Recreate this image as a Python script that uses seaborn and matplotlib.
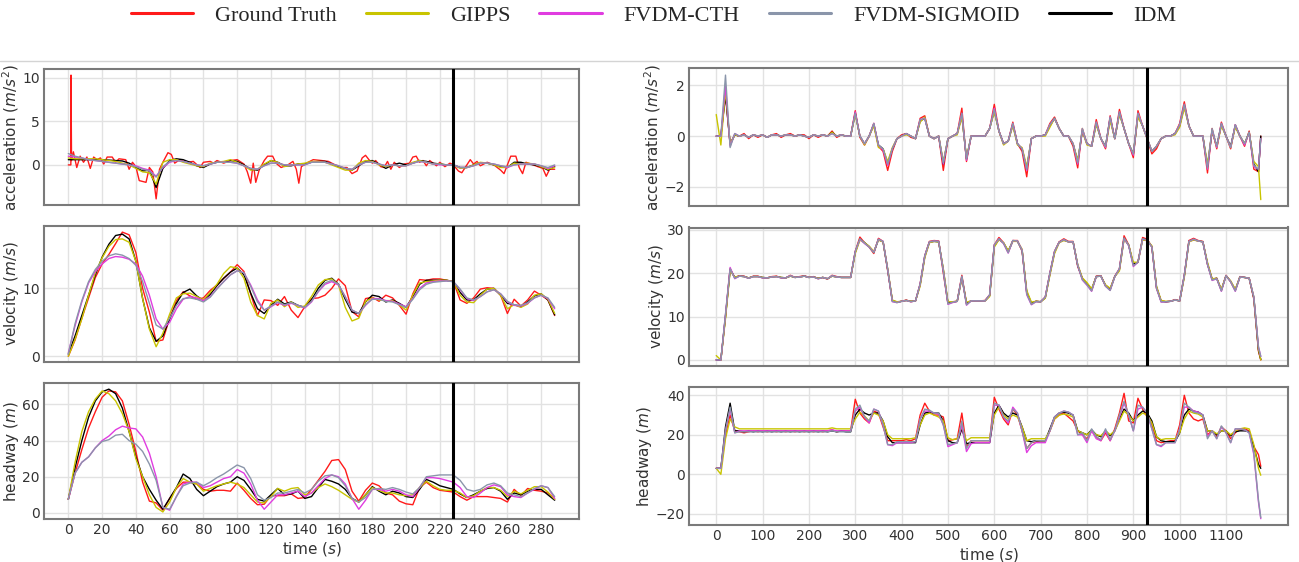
import numpy as np
import matplotlib
matplotlib.use("Agg")
import matplotlib.pyplot as plt
from matplotlib.lines import Line2D
import seaborn as sns

# ---------------------------------------------------------------------------
# Series labels and colours
# ---------------------------------------------------------------------------
models = ["Ground Truth", "GIPPS", "FVDM-CTH", "FVDM-SIGMOID", "IDM"]
colors = {"Ground Truth": "#ff1a1a", "GIPPS": "#c8c400", "FVDM-CTH": "#e03ce0",
          "FVDM-SIGMOID": "#8a95aa", "IDM": "#000000"}

# ---------------------------------------------------------------------------
# Trajectory 1 (short run, 0-288 s, sampled every 4 s)
# ---------------------------------------------------------------------------
t_short = np.arange(0, 289, 4)
split_short = 228  # train / test boundary (s)

# measured acceleration is logged on its own irregular time stamps
gt_acc_short_t = [0, 1.5, 1.6, 1.9, 3, 5, 7, 9, 11, 13, 15, 17, 19, 21, 23, 26, 28, 30, 34, 36,
                  38, 40, 42, 46, 48, 50, 52, 54, 56, 59, 61, 63, 66, 70, 74, 78, 80, 84, 86, 88,
                  92, 96, 100, 104, 106, 108, 109.5, 111, 113, 116, 118, 121, 123, 126, 130, 133,
                  135, 136.5, 138, 142, 145, 150, 154, 158, 162, 165, 168, 171, 174, 176, 178,
                  180, 182, 185, 187, 189, 191, 193, 196, 199, 202, 204, 206, 208, 210, 212, 214,
                  218, 220, 223, 226, 228, 231, 233, 236, 238, 240, 242, 244, 248, 252, 256, 258,
                  260, 262, 265, 267, 269, 271, 274, 278, 281, 283, 285, 288]
gt_acc_short = [0.0, 0.0, 10.3, 0.5, 1.5, -0.3, 1.0, 0.3, 0.9, -0.4, 0.9, 0.6, 0.8, 0.1, 0.9, 0.9,
                0.3, 0.7, 0.6, -0.5, 0.3, -0.2, -1.8, -2.0, -0.3, -0.8, -3.9, -0.5, 0.3, 1.4, 1.2,
                0.2, 0.6, 0.3, 0.4, -0.3, 0.3, 0.4, 0.2, 0.5, 0.2, 0.5, 0.6, 0.1, -0.8, -2.1, 0.2,
                -2.0, -0.6, 0.5, 1.0, 1.0, 0.2, -0.3, 0.0, 0.4, -0.5, -2.1, -0.2, 0.3, 0.6, 0.5,
                0.4, 0.0, -0.3, -0.3, -1.0, -0.7, 0.8, 1.1, 0.6, 0.2, 0.5, -0.2, -0.3, 0.4, -0.5,
                0.3, -0.3, 0.1, 0.2, 0.9, 1.0, 0.3, 0.5, -0.1, 0.5, -0.1, 0.3, -0.2, 0.2, 0.0,
                -0.7, -0.9, 0.0, 0.6, 0.1, 0.4, -0.1, 0.3, 0.0, -0.6, -1.0, 0.0, 1.0, 1.0, -0.3,
                -1.0, 0.3, 0.1, -0.2, -0.4, -1.3, -0.5, -0.5]

acc_short = {
    "GIPPS": [0.8, 0.7, 0.7, 0.7, 0.7, 0.6, 0.5, 0.4, 0.2, 0.0,
              -0.4, -0.8, -0.9, -2.2, 0.3, 0.6, 0.6, 0.3, 0.1, -0.1,
              -0.2, 0.2, 0.3, 0.4, 0.6, 0.3, -0.1, -0.6, -0.5, 0.1,
              0.5, 0.3, -0.2, 0.0, 0.1, 0.2, 0.4, 0.4, 0.3, 0.0,
              -0.3, -0.6, -0.6, 0.2, 0.5, 0.4, 0.0, -0.2, 0.0, -0.1,
              -0.1, 0.3, 0.5, 0.3, 0.1, 0.1, 0.0, 0.0, -0.4, -0.3,
              0.0, 0.3, 0.2, 0.0, -0.3, -0.3, 0.2, 0.1, 0.2, 0.1,
              -0.2, -0.5, -0.3],
    "FVDM-CTH": [1.0, 0.9, 0.8, 0.6, 0.5, 0.4, 0.3, 0.2, 0.1, 0.0,
                 -0.1, -0.4, -0.6, -1.3, -0.3, 0.3, 0.5, 0.4, 0.2, 0.0,
                 -0.1, 0.1, 0.3, 0.3, 0.3, 0.2, -0.1, -0.4, -0.5, -0.1,
                 0.2, 0.2, 0.0, 0.0, 0.0, 0.0, 0.3, 0.3, 0.3, 0.1,
                 -0.1, -0.4, -0.5, 0.0, 0.3, 0.3, 0.1, -0.1, 0.0, -0.1,
                 -0.1, 0.2, 0.4, 0.3, 0.1, 0.0, 0.0, 0.0, -0.3, -0.3,
                 -0.1, 0.2, 0.2, 0.1, -0.1, -0.3, 0.0, 0.1, 0.1, 0.1,
                 -0.1, -0.4, -0.1],
    "FVDM-SIGMOID": [1.3, 1.0, 0.8, 0.6, 0.5, 0.4, 0.3, 0.2, 0.1, 0.0,
                     -0.2, -0.5, -0.7, -1.4, -0.2, 0.4, 0.5, 0.4, 0.2, 0.0,
                     -0.1, 0.1, 0.3, 0.3, 0.3, 0.2, -0.1, -0.4, -0.5, -0.1,
                     0.2, 0.2, 0.0, 0.0, 0.0, 0.0, 0.3, 0.3, 0.3, 0.1,
                     -0.1, -0.4, -0.5, 0.0, 0.3, 0.3, 0.1, -0.1, 0.0, -0.1,
                     -0.1, 0.2, 0.4, 0.3, 0.1, 0.1, 0.0, 0.0, -0.3, -0.3,
                     -0.1, 0.2, 0.2, 0.1, -0.1, -0.2, 0.0, 0.1, 0.1, 0.1,
                     -0.1, -0.3, 0.0],
    "IDM": [0.6, 0.6, 0.6, 0.6, 0.6, 0.6, 0.55, 0.5, 0.45, 0.2,
            -0.3, -0.7, -0.6, -2.6, -0.4, 0.5, 0.7, 0.6, 0.3, -0.1,
            -0.3, 0.1, 0.3, 0.3, 0.5, 0.4, 0.0, -0.5, -0.6, 0.0,
            0.5, 0.3, -0.1, -0.1, 0.1, 0.1, 0.3, 0.4, 0.4, 0.1,
            -0.2, -0.4, -0.6, -0.1, 0.4, 0.5, 0.1, -0.4, 0.0, 0.2,
            0.0, 0.2, 0.5, 0.4, 0.2, 0.1, 0.0, 0.0, -0.3, -0.3,
            0.0, 0.2, 0.2, 0.0, -0.2, -0.3, 0.3, 0.3, 0.1, 0.0,
            -0.2, -0.6, -0.2],
}

vel_short = {
    "Ground Truth": [0.0, 2.4, 5.6, 8.6, 11.6, 13.6, 15.0, 16.6, 18.3, 17.9,
                     15.3, 10.0, 6.5, 2.2, 2.4, 5.6, 8.2, 9.5, 8.9, 8.4,
                     8.6, 9.7, 10.5, 11.5, 12.4, 13.5, 12.5, 9.2, 6.0, 8.3,
                     8.2, 7.5, 8.8, 6.8, 5.7, 7.3, 8.5, 8.6, 9.0, 10.0,
                     11.4, 10.4, 6.6, 5.8, 8.5, 8.7, 8.1, 9.0, 8.6, 7.5,
                     6.2, 9.2, 11.3, 11.2, 11.4, 11.4, 11.2, 11.0, 8.3, 7.8,
                     8.6, 9.9, 10.1, 10.0, 9.0, 6.3, 8.4, 7.4, 8.3, 9.6,
                     9.0, 8.3, 6.0],
    "GIPPS": [0.0, 2.5, 5.5, 9.0, 12.3, 14.5, 16.2, 17.2, 17.3, 16.8,
              14.0, 8.5, 4.0, 1.4, 3.4, 6.2, 8.6, 9.2, 9.3, 8.8,
              8.3, 9.4, 10.6, 12.2, 13.2, 13.0, 11.5, 8.0, 6.0, 5.5,
              7.8, 8.3, 7.3, 8.0, 7.2, 7.4, 8.8, 10.5, 11.3, 11.4,
              10.5, 7.2, 5.2, 5.6, 8.1, 8.6, 8.3, 8.2, 8.2, 7.6,
              6.8, 9.0, 10.8, 11.0, 11.1, 11.2, 11.2, 11.0, 9.0, 8.0,
              7.9, 9.0, 9.9, 10.0, 9.0, 7.0, 7.6, 7.2, 7.7, 9.0,
              9.2, 8.4, 6.3],
    "FVDM-CTH": [0.5, 4.5, 8.0, 10.8, 12.5, 13.6, 14.4, 14.7, 14.6, 14.3,
                 13.6, 11.8, 9.0, 5.5, 4.0, 5.0, 7.0, 8.4, 8.8, 8.6,
                 8.2, 8.8, 10.0, 11.0, 12.0, 12.6, 12.3, 10.5, 8.3, 6.8,
                 7.3, 7.9, 7.5, 7.8, 7.5, 7.1, 8.0, 9.5, 10.6, 11.0,
                 10.5, 8.8, 6.8, 6.3, 7.5, 8.5, 8.5, 8.2, 8.1, 7.7,
                 7.3, 8.5, 10.0, 10.8, 11.0, 11.1, 11.1, 11.0, 9.8, 8.5,
                 8.2, 8.8, 9.5, 9.8, 9.2, 8.0, 7.5, 7.4, 7.8, 8.6,
                 9.0, 8.5, 7.0],
    "FVDM-SIGMOID": [0.3, 4.8, 8.2, 11.0, 12.8, 14.0, 14.8, 15.1, 14.9, 14.4,
                     13.4, 11.0, 7.8, 4.6, 4.0, 5.6, 7.5, 8.5, 8.6, 8.4,
                     8.0, 8.7, 9.9, 11.0, 12.0, 12.6, 12.3, 10.3, 8.0, 6.8,
                     7.4, 8.0, 7.6, 7.9, 7.5, 7.2, 8.1, 9.6, 10.8, 11.2,
                     10.6, 8.7, 6.8, 6.3, 7.6, 8.4, 8.4, 8.1, 8.0, 7.6,
                     7.2, 8.4, 9.8, 10.6, 10.9, 11.0, 11.1, 11.0, 9.9, 8.6,
                     8.3, 8.8, 9.5, 9.8, 9.2, 8.1, 7.6, 7.5, 7.9, 8.6,
                     9.0, 8.6, 7.2],
    "IDM": [0.3, 3.0, 6.0, 9.0, 12.0, 14.6, 16.5, 17.8, 18.0, 17.3,
            14.0, 8.5, 4.2, 2.2, 3.0, 5.5, 7.8, 9.4, 9.9, 8.9,
            8.2, 9.1, 10.4, 11.5, 12.4, 13.0, 12.0, 9.3, 7.0, 6.3,
            7.5, 8.4, 7.7, 8.0, 7.5, 7.2, 8.3, 10.0, 11.2, 11.5,
            10.6, 8.4, 6.5, 6.3, 8.0, 9.0, 8.8, 8.0, 8.3, 7.8,
            7.2, 8.8, 10.6, 11.2, 11.2, 11.2, 11.2, 11.0, 9.4, 8.3,
            8.3, 9.2, 9.9, 10.0, 9.0, 7.8, 7.6, 7.3, 8.0, 8.9,
            9.2, 8.3, 6.1],
}

head_short = {
    "Ground Truth": [7.5, 22, 35, 47, 56, 64, 67.5, 67, 62, 49,
                     34, 17, 6.5, 5.5, 1.5, 8, 13.5, 17, 17, 16,
                     13, 12, 12.5, 12.5, 12, 16.5, 12.5, 8, 4.5, 4.8,
                     9.5, 9.5, 9.5, 10.5, 8, 8.5, 13, 18, 23, 29,
                     29.5, 24, 12, 6.5, 12.5, 16.5, 15, 11, 10, 6.5,
                     5, 4.5, 14, 17, 14, 12.5, 12, 11.5, 9, 7,
                     9, 9, 9, 8.5, 8, 6, 13, 9.5, 13.5, 12.5,
                     12, 11, 7.5],
    "GIPPS": [7.5, 28, 45, 56, 63, 67.5, 66, 62, 55, 45,
              30, 20, 10, 3, 0.5, 6, 14, 19, 17, 16,
              12, 13.5, 15, 16, 17, 16, 14, 10, 6, 5.5,
              9, 13.5, 12, 13.5, 14, 10, 11, 14, 16, 14.5,
              12.5, 10, 7.5, 6, 10, 14, 12.5, 11, 11, 10,
              9.5, 10, 14, 17.5, 15, 13, 12.5, 12.5, 11, 8.5,
              9.5, 12, 14, 14, 12.5, 9, 12, 10.5, 12.5, 14.5,
              14.5, 11.5, 7.5],
    "FVDM-CTH": [7.5, 22, 28, 31, 36, 40, 42.5, 46, 48, 47,
                 46.5, 42, 33, 20, 3, 1.5, 9, 16, 17, 17,
                 14, 15, 17, 19, 20, 24, 22, 16, 7, 2,
                 6, 10, 10, 11, 12, 9, 11, 15, 19, 21,
                 20, 16, 8, 2, 7, 13, 13, 12, 13, 12,
                 10, 9, 14, 19.5, 19.5, 19, 18, 17, 14, 9,
                 8.5, 11, 14, 15.5, 14.5, 10, 9, 8.5, 11, 13,
                 15, 14, 8],
    "FVDM-SIGMOID": [7.5, 22, 28, 31, 36, 39.5, 40.5, 43, 43.5, 40,
                     38, 34, 27, 18, 3, 2, 9, 15, 16.5, 17,
                     15, 17, 19.5, 21.5, 24, 26.5, 25, 19, 10, 7,
                     8.5, 11, 11, 12, 13, 11, 13, 17.5, 20.5, 21,
                     19.5, 15, 8, 6, 8.5, 13, 13.5, 13, 14, 13,
                     11.5, 10.5, 14, 20, 20.5, 21, 21, 21, 18, 13,
                     12, 13, 15.5, 16.5, 15, 11, 10, 9, 11, 13.5,
                     15, 14, 9],
    "IDM": [7.5, 25, 40, 53, 62, 67, 68.5, 66, 58, 45,
            31, 20, 13, 7, 2, 8, 14, 21.5, 19, 13,
            9.5, 12, 14.5, 16, 17, 20, 18, 13, 7.5, 6.5,
            10, 13.5, 10, 10.5, 12, 8, 9, 14, 18.5, 17.5,
            16, 13, 8, 6, 10, 14.5, 12, 10, 12, 11,
            9, 8.5, 13, 18.5, 17, 15, 14, 13, 10.5, 8.5,
            10, 12, 13.5, 14, 12, 7.5, 11, 10, 12, 13,
            13, 10, 7],
}

# ---------------------------------------------------------------------------
# Trajectory 2 (long run, 0-1175 s, sampled every 10 s)
# ---------------------------------------------------------------------------
t_long = np.r_[np.arange(0, 1171, 10), 1175]
split_long = 929

acc_long = {
    "Ground Truth": [0, 0, 1.7, -0.35, 0.05, 0.0, 0.1, -0.1, 0.05, -0.05,
                     0.05, -0.05, 0.05, 0.1, -0.05, 0.05, 0.1, 0.0, 0.05, 0.05,
                     -0.1, 0.05, -0.05, 0.05, 0.0, 0.2, -0.05, 0.05, 0.0, 0.0,
                     1.0, -0.05, -0.35, 0.0, 0.5, -0.4, -0.6, -1.35, -0.6, -0.1,
                     0.05, 0.1, -0.05, -0.1, 0.7, 0.8, 0.0, -0.1, 0.0, -1.35,
                     -0.1, 0.0, 0.1, 1.1, -1.0, 0.0, 0.0, 0.0, 0.0, 0.3,
                     1.25, 0.2, -0.3, -0.2, 0.55, -0.3, -0.6, -1.6, -0.1, 0.0,
                     0.0, 0.05, 0.5, 0.75, 0.3, 0.0, 0.0, -0.4, -1.25, 0.3,
                     -0.3, -0.4, 0.65, -0.1, -0.5, 0.8, -0.1, 1.05, 0.3, -0.3,
                     -0.85, 1.0, 0.4, -0.1, -0.7, -0.5, -0.1, 0.0, 0.0, 0.1,
                     0.5, 1.35, 0.4, 0.0, 0.0, 0.0, -1.45, 0.3, -0.5, 0.55,
                     0.0, -0.5, 0.45, 0.0, -0.4, 0.2, -1.3, -1.4, 0.0],
    "GIPPS": [0.85, -0.35, 1.8, -0.3, 0.05, 0.0, 0.05, -0.05, 0.05, 0.0,
              0.05, -0.05, 0.05, 0.05, 0.0, 0.05, 0.05, 0.0, 0.05, 0.0,
              -0.05, 0.05, 0.0, 0.05, 0.0, 0.15, 0.0, 0.05, 0.0, 0.0,
              0.85, 0.0, -0.35, 0.0, 0.4, -0.45, -0.5, -1.0, -0.45, -0.1,
              0.0, 0.05, 0.0, -0.1, 0.55, 0.75, 0.0, -0.1, 0.0, -1.0,
              -0.1, 0.0, 0.05, 0.75, -0.85, 0.0, 0.0, 0.0, 0.0, 0.3,
              0.95, 0.2, -0.35, -0.2, 0.4, -0.35, -0.45, -1.2, -0.1, 0.0,
              0.0, 0.0, 0.35, 0.7, 0.3, 0.0, 0.0, -0.3, -0.95, 0.2,
              -0.35, -0.4, 0.45, -0.1, -0.45, 0.6, -0.1, 0.85, 0.3, -0.3,
              -0.7, 0.75, 0.4, -0.1, -0.6, -0.4, -0.1, 0.0, 0.0, 0.05,
              0.35, 1.1, 0.4, 0.0, 0.0, 0.0, -1.1, 0.2, -0.45, 0.4,
              0.0, -0.45, 0.35, 0.0, -0.3, 0.15, -1.0, -1.2, -2.5],
    "FVDM-CTH": [0, 0, 2.0, -0.4, 0.1, 0.0, 0.05, -0.05, 0.05, 0.0,
                 0.05, -0.05, 0.05, 0.05, 0.0, 0.05, 0.05, 0.0, 0.05, 0.0,
                 -0.05, 0.05, 0.0, 0.05, 0.0, 0.1, 0.0, 0.05, 0.0, 0.0,
                 0.95, 0.0, -0.3, 0.0, 0.5, -0.35, -0.55, -1.15, -0.5, -0.1,
                 0.0, 0.1, 0.0, -0.1, 0.65, 0.7, 0.0, -0.1, 0.0, -1.1,
                 -0.1, 0.0, 0.1, 0.9, -0.95, 0.0, 0.0, 0.0, 0.0, 0.3,
                 1.1, 0.2, -0.3, -0.2, 0.5, -0.3, -0.5, -1.35, -0.1, 0.0,
                 0.0, 0.05, 0.45, 0.7, 0.3, 0.0, 0.0, -0.3, -1.1, 0.25,
                 -0.3, -0.4, 0.55, -0.1, -0.45, 0.75, -0.1, 0.95, 0.3, -0.3,
                 -0.75, 0.9, 0.4, -0.1, -0.6, -0.4, -0.1, 0.0, 0.0, 0.1,
                 0.45, 1.25, 0.4, 0.0, 0.0, 0.0, -1.3, 0.25, -0.45, 0.5,
                 0.0, -0.45, 0.45, 0.0, -0.35, 0.15, -1.2, -1.3, -0.1],
    "FVDM-SIGMOID": [0, 0, 2.4, -0.45, 0.1, 0.0, 0.05, -0.05, 0.05, 0.0,
                     0.05, -0.05, 0.05, 0.05, 0.0, 0.05, 0.05, 0.0, 0.05, 0.0,
                     -0.05, 0.05, 0.0, 0.05, 0.0, 0.1, 0.0, 0.05, 0.0, 0.0,
                     0.9, 0.0, -0.3, 0.0, 0.5, -0.35, -0.5, -1.1, -0.5, -0.1,
                     0.0, 0.1, 0.0, -0.1, 0.65, 0.7, 0.0, -0.1, 0.0, -1.05,
                     -0.1, 0.0, 0.1, 0.9, -0.9, 0.0, 0.0, 0.0, 0.0, 0.3,
                     1.05, 0.2, -0.3, -0.2, 0.5, -0.3, -0.5, -1.3, -0.1, 0.0,
                     0.0, 0.05, 0.45, 0.7, 0.3, 0.0, 0.0, -0.3, -1.05, 0.3,
                     -0.3, -0.4, 0.55, -0.1, -0.4, 0.75, -0.1, 0.95, 0.3, -0.3,
                     -0.7, 0.9, 0.4, -0.1, -0.6, -0.4, -0.1, 0.0, 0.0, 0.1,
                     0.45, 1.25, 0.4, 0.0, 0.0, 0.0, -1.25, 0.3, -0.4, 0.5,
                     0.0, -0.45, 0.45, 0.0, -0.3, 0.15, -1.15, -1.3, -0.1],
    "IDM": [0, 0, 1.6, -0.3, 0.05, 0.0, 0.05, -0.05, 0.05, 0.0,
            0.05, -0.05, 0.05, 0.05, 0.0, 0.05, 0.05, 0.0, 0.05, 0.0,
            -0.05, 0.05, 0.0, 0.05, 0.0, 0.15, 0.0, 0.05, 0.0, 0.0,
            0.9, 0.0, -0.3, 0.0, 0.45, -0.35, -0.5, -1.1, -0.5, -0.1,
            0.0, 0.1, 0.0, -0.1, 0.6, 0.7, 0.0, -0.1, 0.0, -1.1,
            -0.1, 0.0, 0.1, 0.8, -0.9, 0.0, 0.0, 0.0, 0.0, 0.3,
            1.0, 0.2, -0.3, -0.2, 0.45, -0.3, -0.5, -1.3, -0.1, 0.0,
            0.0, 0.05, 0.4, 0.7, 0.3, 0.0, 0.0, -0.3, -1.0, 0.2,
            -0.3, -0.4, 0.5, -0.1, -0.4, 0.7, -0.1, 0.9, 0.3, -0.3,
            -0.7, 0.8, 0.4, -0.1, -0.6, -0.4, -0.1, 0.0, 0.0, 0.1,
            0.4, 1.2, 0.4, 0.0, 0.0, 0.0, -1.2, 0.2, -0.4, 0.45,
            0.0, -0.4, 0.4, 0.0, -0.3, 0.15, -1.1, -1.4, 0.0],
}

vel_long = {
    "Ground Truth": [0, 0, 10.0, 21.0, 19.0, 19.4, 19.3, 18.8, 19.3, 19.3,
                     18.9, 18.9, 19.2, 19.3, 18.9, 18.9, 19.5, 19.0, 19.2, 19.4,
                     19.0, 19.2, 18.7, 19.0, 18.6, 19.5, 19.2, 19.0, 19.0, 19.0,
                     25.0, 28.3, 27.0, 26.0, 24.5, 28.0, 27.3, 20.5, 13.7, 13.3,
                     13.5, 13.8, 13.4, 13.6, 17.5, 24.0, 27.3, 27.5, 27.4, 20.0,
                     13.0, 13.4, 13.5, 19.5, 13.0, 13.6, 13.6, 13.6, 13.7, 15.0,
                     26.5, 28.2, 27.0, 24.8, 27.5, 27.5, 25.0, 15.5, 13.0, 13.5,
                     13.4, 14.5, 20.0, 25.0, 27.2, 27.9, 27.3, 27.3, 21.5, 18.8,
                     17.5, 16.0, 19.3, 19.4, 17.0, 16.2, 19.3, 21.0, 28.6, 26.5,
                     22.0, 22.5, 28.2, 27.8, 26.0, 16.5, 13.6, 13.4, 13.5, 13.9,
                     13.6, 19.5, 27.5, 28.0, 27.5, 27.3, 22.0, 18.6, 18.8, 16.0,
                     19.5, 18.0, 16.0, 19.2, 19.0, 18.8, 14.0, 2.0, 0.0],
    "GIPPS": [1.0, 0, 9.5, 20.5, 19.1, 19.3, 19.2, 18.9, 19.2, 19.2,
              19.0, 18.9, 19.1, 19.2, 19.0, 18.9, 19.3, 19.0, 19.1, 19.3,
              19.0, 19.1, 18.8, 19.0, 18.7, 19.3, 19.1, 19.0, 19.0, 19.0,
              24.5, 27.6, 27.0, 26.2, 25.0, 27.6, 27.2, 21.0, 13.8, 13.4,
              13.5, 13.7, 13.5, 13.6, 17.0, 23.5, 27.0, 27.3, 27.2, 21.0,
              13.4, 13.4, 13.5, 18.8, 13.3, 13.6, 13.6, 13.6, 13.6, 14.6,
              26.0, 27.7, 27.0, 25.2, 27.3, 27.3, 25.5, 16.0, 13.3, 13.5,
              13.4, 14.2, 19.5, 24.5, 27.0, 27.5, 27.2, 27.2, 22.0, 18.9,
              17.8, 16.4, 19.2, 19.3, 17.3, 16.5, 19.2, 20.5, 27.8, 26.5,
              22.5, 22.5, 27.6, 27.5, 26.3, 17.0, 13.7, 13.5, 13.5, 13.8,
              13.6, 19.0, 27.2, 27.6, 27.4, 27.2, 22.5, 18.7, 18.8, 16.3,
              19.4, 18.2, 16.3, 19.1, 19.0, 18.8, 14.5, 2.5, 0.0],
    "FVDM-CTH": [0, 0, 10.5, 21.3, 18.7, 19.3, 19.2, 18.8, 19.2, 19.2,
                 18.9, 18.9, 19.1, 19.2, 18.9, 18.9, 19.4, 19.0, 19.1, 19.3,
                 19.0, 19.1, 18.7, 19.0, 18.7, 19.4, 19.1, 19.0, 19.0, 19.0,
                 25.0, 27.8, 26.8, 26.0, 24.8, 27.8, 27.3, 20.8, 13.4, 13.2,
                 13.5, 13.7, 13.4, 13.6, 17.5, 24.0, 27.2, 27.4, 27.3, 20.5,
                 12.8, 13.2, 13.5, 19.2, 12.6, 13.6, 13.6, 13.6, 13.6, 15.0,
                 26.5, 27.9, 26.8, 24.6, 27.5, 27.4, 25.3, 15.0, 12.7, 13.4,
                 13.4, 14.5, 20.0, 25.0, 27.1, 27.7, 27.2, 27.2, 21.8, 18.4,
                 17.2, 15.8, 19.2, 19.3, 17.0, 16.0, 19.2, 21.0, 28.0, 26.3,
                 21.5, 22.5, 27.8, 27.6, 26.0, 16.5, 13.3, 13.4, 13.5, 13.8,
                 13.6, 19.5, 27.3, 27.8, 27.4, 27.2, 22.0, 18.3, 18.7, 15.8,
                 19.4, 18.0, 15.8, 19.1, 19.0, 18.8, 14.5, 3.0, 0.8],
    "FVDM-SIGMOID": [0, 0, 10.5, 21.0, 18.8, 19.3, 19.2, 18.8, 19.2, 19.2,
                     18.9, 18.9, 19.1, 19.2, 18.9, 18.9, 19.4, 19.0, 19.1, 19.3,
                     19.0, 19.1, 18.7, 19.0, 18.7, 19.4, 19.1, 19.0, 19.0, 19.0,
                     25.0, 27.9, 26.9, 26.0, 24.7, 27.8, 27.3, 20.8, 13.5, 13.2,
                     13.5, 13.7, 13.4, 13.6, 17.5, 24.0, 27.2, 27.4, 27.3, 20.5,
                     12.9, 13.3, 13.5, 19.3, 12.7, 13.6, 13.6, 13.6, 13.6, 15.0,
                     26.5, 27.9, 26.9, 24.7, 27.5, 27.4, 25.2, 15.2, 12.8, 13.4,
                     13.4, 14.5, 20.0, 25.0, 27.1, 27.7, 27.2, 27.2, 21.8, 18.5,
                     17.3, 15.9, 19.2, 19.3, 17.0, 16.0, 19.2, 21.0, 28.1, 26.4,
                     21.7, 22.5, 27.9, 27.6, 26.0, 16.5, 13.4, 13.4, 13.5, 13.8,
                     13.6, 19.5, 27.3, 27.8, 27.4, 27.2, 22.0, 18.4, 18.7, 15.9,
                     19.4, 18.0, 15.9, 19.1, 19.0, 18.8, 14.5, 3.0, 0.8],
    "IDM": [0, 0, 10.0, 20.8, 19.0, 19.3, 19.2, 18.9, 19.2, 19.2,
            19.0, 18.9, 19.1, 19.2, 19.0, 18.9, 19.3, 19.0, 19.1, 19.3,
            19.0, 19.1, 18.8, 19.0, 18.7, 19.3, 19.1, 19.0, 19.0, 19.0,
            24.8, 27.8, 27.0, 26.1, 24.8, 27.7, 27.2, 20.8, 13.6, 13.3,
            13.5, 13.7, 13.5, 13.6, 17.3, 23.8, 27.1, 27.3, 27.2, 20.8,
            13.1, 13.3, 13.5, 19.0, 13.0, 13.6, 13.6, 13.6, 13.6, 14.8,
            26.2, 27.8, 26.9, 25.0, 27.4, 27.3, 25.3, 15.6, 13.1, 13.5,
            13.4, 14.3, 19.8, 24.8, 27.1, 27.6, 27.2, 27.2, 21.8, 18.7,
            17.6, 16.2, 19.2, 19.3, 17.2, 16.3, 19.2, 20.8, 28.0, 26.4,
            22.0, 22.5, 27.8, 27.6, 26.1, 16.8, 13.5, 13.4, 13.5, 13.8,
            13.6, 19.3, 27.3, 27.7, 27.4, 27.2, 22.2, 18.6, 18.8, 16.1,
            19.4, 18.1, 16.1, 19.1, 19.0, 18.8, 14.3, 2.3, 0.1],
}

head_long = {
    "Ground Truth": [3, 3, 20, 30, 22, 21.5, 21, 21.5, 22, 21.5,
                     22, 21.5, 22, 21.5, 22, 21.5, 22, 21.5, 22, 21.5,
                     22, 21.5, 22, 21.5, 22, 22.5, 21.5, 22, 22, 22,
                     38, 31, 28, 26, 32, 31, 24, 17, 17, 17,
                     17, 17.5, 17, 18, 30, 36, 32, 30, 30, 29,
                     17, 17.5, 18, 31, 14, 17, 17, 17, 17, 17,
                     39, 33, 28, 25, 33, 30, 22, 13, 16, 16.5,
                     17, 17, 22, 28, 30, 31, 29, 27, 22, 20,
                     18, 22, 19, 17, 21, 17, 23, 31, 41, 27,
                     26, 38.5, 33, 29, 25, 17, 16, 16.5, 17, 17,
                     25, 40, 31, 28, 27, 28, 20, 22, 19, 24,
                     22, 18, 21, 23, 23, 22, 14, 10, 4],
    "GIPPS": [3, 0, 18, 28, 24, 23, 23, 23, 23, 23,
              23, 23, 23, 23, 23, 23, 23, 23, 23, 23,
              23, 23, 23, 23, 23, 23.5, 23, 23, 23, 23,
              28, 31.5, 29.5, 27, 31, 30, 27, 20, 18, 18,
              18, 18, 18, 18.5, 25, 30, 31, 30, 29, 27,
              18.5, 17.5, 18, 24, 17, 18.5, 18.5, 18.5, 18.5, 18.5,
              30, 34, 30, 28, 30, 29, 24, 17, 18, 18,
              18, 18, 22, 28, 30, 30.5, 30, 29, 22, 21,
              20, 22, 20, 19.5, 22, 20, 22, 27, 32, 30,
              27, 29, 31, 30, 26, 19, 17.5, 18, 18, 18,
              21, 28, 32, 31, 30.5, 29, 22, 22, 20.5, 22,
              22, 20, 22, 23, 23.5, 23, 15, 3, -0.5],
    "FVDM-CTH": [3, 3, 22, 33, 21, 22, 22, 22, 22, 22,
                 22, 22, 22, 22, 22, 22, 22, 22, 22, 22,
                 22, 22, 22, 22, 22, 22.5, 22, 22, 22, 22,
                 32, 34, 29, 26, 33, 32, 25, 15, 14.5, 16,
                 16, 16, 16, 16.5, 28, 32, 32, 31, 30.5, 25,
                 14, 15, 16, 25, 11.5, 15.5, 16, 16, 16, 16,
                 35, 35, 29, 26, 34, 31, 22, 11, 14.5, 16,
                 16, 16, 22, 29, 31, 32, 31.5, 30, 20, 20,
                 16, 22, 18, 17, 22, 17, 22, 29, 36, 30,
                 22, 33, 34, 31, 23, 15, 14, 16, 16, 16,
                 23, 34, 34, 32, 31.5, 30, 19, 22, 18, 24,
                 21, 16, 23, 23, 22.5, 21, 10, -14, -22.5],
    "FVDM-SIGMOID": [3, 3, 22, 34, 21, 21.5, 21.5, 21.5, 21.5, 21.5,
                     21.5, 21.5, 21.5, 21.5, 21.5, 21.5, 21.5, 21.5, 21.5, 21.5,
                     21.5, 21.5, 21.5, 21.5, 21.5, 22, 21.5, 21.5, 21.5, 21.5,
                     33, 35, 29, 27, 33, 32, 25, 15, 15, 16.5,
                     16.5, 16.5, 16.5, 16.5, 28, 33, 32.5, 31, 31, 25,
                     15, 15.5, 16, 27, 13, 17, 17, 17, 17, 17,
                     36, 35, 29, 27, 33, 31, 22, 13, 16, 17,
                     17, 17, 22, 29, 31, 32, 31.5, 30, 20, 21,
                     17, 23, 19, 17.5, 23, 17.5, 22, 30, 37, 30,
                     22, 35, 34, 31, 23, 15, 14.5, 16, 16, 16,
                     23, 36, 34, 31.5, 31, 30, 18, 22, 18, 24.5,
                     21, 16, 23, 23, 22.5, 21, 11, -13, -22],
    "IDM": [3, 3, 24, 36, 22, 22, 21.5, 22, 21.5, 22,
            21.5, 22, 21.5, 22, 21.5, 22, 21.5, 22, 21.5, 22,
            21.5, 22, 21.5, 22, 21.5, 22, 21.5, 22, 21.5, 21.5,
            30, 33, 31, 30, 31, 31, 27, 19, 16, 16,
            16, 16, 16, 16, 25, 31, 31.5, 31, 31, 27,
            17, 16, 16, 23, 15.5, 16, 16, 16, 16, 16,
            31, 35, 31, 29, 31, 30, 24, 17, 16.5, 17,
            17, 17, 23, 29, 31, 31.5, 31, 30, 22, 21,
            20, 22.5, 20, 19, 22, 19.5, 22, 28, 33, 31,
            27, 30, 32, 31, 27, 19, 17, 16.5, 16.5, 16.5,
            21, 30, 33, 32, 31.5, 30, 22, 22, 20, 22,
            22, 19.5, 21.5, 22, 22, 21.5, 14, 5, 3],
}

# ---------------------------------------------------------------------------
# Axis labels, ticks and limits
# ---------------------------------------------------------------------------
ylabels = ["acceleration ($m/s^2$)", "velocity ($m/s$)", "headway ($m$)"]
xlabel = "time ($s$)"
xticks_short = list(range(0, 281, 20))
xticks_long = list(range(0, 1101, 100))
yticks_short = [[0, 5, 10], [0, 10], [0, 20, 40, 60]]
yticks_long = [[-2, 0, 2], [0, 10, 20, 30], [-20, 0, 20, 40]]
ylims_short = [(-4.6, 11.0), (-0.85, 19.2), (-3.4, 71.9)]
ylims_long = [(-2.75, 2.68), (-1.4, 30.5), (-25.7, 44.2)]

# ---------------------------------------------------------------------------
# Styling
# ---------------------------------------------------------------------------
sns.set_theme(style="whitegrid", rc={
    "axes.edgecolor": "#7a7a7a",
    "axes.linewidth": 1.5,
    "grid.color": "#e2e2e2",
    "grid.linewidth": 1.0,
    "xtick.color": "#333333",
    "ytick.color": "#333333",
    "axes.labelcolor": "#333333",
    "xtick.labelsize": 10,
    "ytick.labelsize": 10,
    "axes.labelsize": 11,
})
plt.rcParams["font.family"] = ["DejaVu Sans"]
plt.rcParams["mathtext.fontset"] = "dejavusans"

W, H = 1299, 562
fig = plt.figure(figsize=(W / 100, H / 100), dpi=100)


def box(left_px, right_px, top_px, bottom_px):
    return [left_px / W, 1 - bottom_px / H, (right_px - left_px) / W, (bottom_px - top_px) / H]


rows_short = [(69, 205), (226, 362), (383, 519)]
rows_long = [(68, 206), (227.5, 366), (387, 525)]

# drawing order: measured data underneath, model predictions on top
order = ["Ground Truth", "IDM", "GIPPS", "FVDM-CTH", "FVDM-SIGMOID"]


def draw_column(rows, xl, xr, t, panels, gt_acc, xlim, xticks, yticks, ylims, split):
    for i, (top, bot) in enumerate(rows):
        ax = fig.add_axes(box(xl, xr, top, bot))
        data = panels[i]
        for name in order:
            if i == 0 and name == "Ground Truth" and gt_acc is not None:
                x, y = gt_acc
            elif name in data:
                x, y = t, data[name]
            else:
                continue
            sns.lineplot(x=np.asarray(x, float), y=np.asarray(y, float), ax=ax,
                         color=colors[name], lw=1.0, sort=False, estimator=None,
                         legend=False)
        ax.axvline(split, color="black", lw=2.2, zorder=5)
        ax.set_xlim(*xlim)
        ax.set_ylim(*ylims[i])
        ax.set_xticks(xticks)
        ax.set_yticks(yticks[i])
        ax.set_ylabel(ylabels[i], labelpad=1)
        ax.tick_params(length=0, pad=3)
        for s in ax.spines.values():
            s.set_visible(True)
            s.set_color("#7a7a7a")
            s.set_linewidth(1.5)
        if i < 2:
            ax.set_xticklabels([])
            ax.set_xlabel("")
        else:
            ax.set_xlabel(xlabel, labelpad=2)


draw_column(rows_short, 44, 579, t_short,
            [acc_short, vel_short, head_short], (gt_acc_short_t, gt_acc_short),
            (-14.4, 302.4), xticks_short, yticks_short, ylims_short, split_short)
draw_column(rows_long, 689, 1288, t_long,
            [acc_long, vel_long, head_long], None,
            (-58.75, 1233.75), xticks_long, yticks_long, ylims_long, split_long)

# Legend across the top, with a thin rule underneath
handles = [Line2D([], [], color=colors[m], lw=2.2) for m in models]
fig.legend(handles, models, loc="upper center", bbox_to_anchor=(0.503, 1.026), ncol=5,
           frameon=False, handlelength=2.8, handletextpad=1.0, columnspacing=1.3,
           prop={"family": "Liberation Serif", "size": 16})
fig.add_artist(Line2D([0, 1], [1 - 61 / H] * 2, transform=fig.transFigure,
                      color="#d4d4d4", lw=1.0))

fig.savefig("out.png", dpi=100)
